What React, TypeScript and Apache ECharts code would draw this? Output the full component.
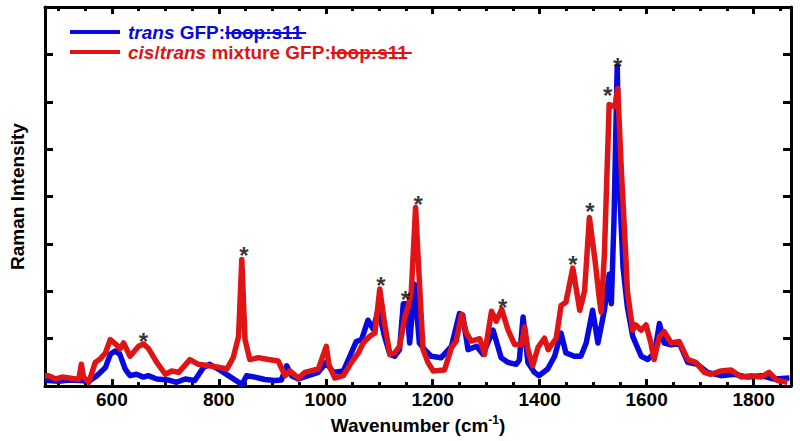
import React, { useEffect, useRef } from 'react';
import * as echarts from 'echarts';

const FONT = '"Liberation Sans", Arial, Helvetica, sans-serif';
const BLUE = '#0808e0';
const RED = '#e01414';

// trans GFP:loop:s11 (blue)
const transWavenumber = [
  475, 482, 500, 520, 540, 557, 572, 588, 597, 606, 615, 625, 634, 646, 659, 668, 684, 705, 721, 737,
  755, 771, 783, 799, 818, 837, 843, 852, 868, 886, 905, 917, 927, 936, 949, 967, 986, 1001, 1014, 1033,
  1045, 1057, 1067, 1079, 1089, 1098, 1110, 1120, 1129, 1138, 1145, 1151, 1157, 1166, 1175, 1185, 1197, 1216, 1235, 1250,
  1256, 1266, 1282, 1294, 1313, 1328, 1341, 1356, 1362, 1369, 1378, 1390, 1399, 1415, 1428, 1440, 1449, 1465, 1477, 1487,
  1499, 1509, 1521, 1530, 1534, 1539, 1545, 1550, 1556, 1564, 1574, 1590, 1602, 1615, 1624, 1633, 1646, 1661, 1677, 1695,
  1714, 1739, 1764, 1789, 1814, 1839, 1867,
];
const transIntensity = [
  0.12, 0.12, 0.10, 0.13, 0.12, 0.10, 0.22, 0.39, 0.67, 0.74, 0.67, 0.36, 0.22, 0.25, 0.19, 0.22, 0.15, 0.13, 0.08, 0.15,
  0.12, 0.39, 0.46, 0.36, 0.22, 0.08, 0.03, 0.22, 0.19, 0.14, 0.12, 0.13, 0.43, 0.22, 0.15, 0.22, 0.29, 0.50, 0.29, 0.32,
  0.63, 0.94, 0.98, 1.39, 1.20, 1.62, 1.05, 0.67, 0.63, 0.77, 1.74, 1.74, 0.91, 2.15, 0.91, 0.77, 0.63, 0.60, 0.84, 1.53,
  1.50, 0.77, 0.84, 0.67, 1.18, 0.60, 0.50, 0.46, 0.55, 1.46, 0.50, 0.29, 0.22, 0.36, 0.63, 1.12, 0.70, 0.63, 0.63, 0.91,
  1.60, 0.91, 1.60, 2.36, 1.74, 3.50, 6.74, 4.00, 2.50, 1.67, 1.05, 0.63, 0.56, 0.70, 1.32, 0.91, 0.87, 0.91, 0.50, 0.46,
  0.29, 0.22, 0.25, 0.19, 0.22, 0.15, 0.17,
];

// cis/trans mixture GFP:loop:s11 (red)
const mixWavenumber = [
  475, 482, 495, 507, 520, 532, 538, 543, 547, 557, 569, 578, 588, 597, 609, 615, 622, 634, 650, 659,
  668, 684, 700, 712, 725, 746, 762, 781, 799, 815, 827, 837, 843, 849, 858, 874, 893, 911, 924, 933,
  949, 961, 986, 1001, 1006, 1017, 1033, 1048, 1061, 1070, 1082, 1092, 1101, 1110, 1120, 1129, 1138, 1148, 1154, 1160,
  1168, 1176, 1182, 1191, 1201, 1222, 1235, 1244, 1254, 1263, 1272, 1288, 1297, 1310, 1319, 1329, 1341, 1353, 1366, 1372,
  1378, 1387, 1397, 1409, 1416, 1431, 1440, 1449, 1462, 1475, 1484, 1490, 1493, 1503, 1512, 1515, 1521, 1530, 1541, 1546,
  1553, 1561, 1564, 1574, 1580, 1590, 1599, 1608, 1614, 1624, 1633, 1646, 1661, 1677, 1692, 1708, 1720, 1739, 1758, 1777,
  1795, 1814, 1829, 1844, 1863,
];
const mixIntensity = [
  0.22, 0.22, 0.15, 0.19, 0.17, 0.15, 0.14, 0.46, 0.19, 0.08, 0.50, 0.57, 0.70, 0.98, 0.87, 0.78, 0.91, 0.63, 0.84, 0.89,
  0.80, 0.50, 0.25, 0.32, 0.29, 0.56, 0.46, 0.43, 0.40, 0.36, 0.60, 1.05, 2.67, 0.98, 0.56, 0.60, 0.56, 0.53, 0.22, 0.32,
  0.17, 0.29, 0.36, 0.84, 0.45, 0.17, 0.22, 0.50, 0.70, 0.91, 1.05, 1.12, 2.05, 1.32, 0.67, 0.70, 0.84, 1.46, 1.67, 2.00,
  3.77, 2.00, 0.77, 0.50, 0.32, 0.34, 0.81, 0.95, 1.51, 1.12, 0.95, 1.00, 0.67, 1.58, 1.37, 1.62, 1.18, 0.88, 0.88, 1.25,
  0.77, 0.43, 0.82, 1.01, 0.77, 1.01, 1.70, 1.77, 2.49, 1.60, 2.01, 3.04, 3.56, 2.70, 1.80, 1.56, 2.77, 5.94, 5.90, 6.28,
  4.50, 2.77, 2.01, 1.18, 1.29, 1.18, 1.29, 0.91, 0.56, 1.05, 1.15, 0.91, 0.94, 0.56, 0.50, 0.29, 0.25, 0.32, 0.34, 0.19,
  0.22, 0.19, 0.29, 0.12, 0.08,
];

// asterisk annotations
const starWavenumber = [659, 847, 1103, 1149, 1173, 1331, 1462, 1494, 1527, 1546];
const starIntensity = [1.05, 2.87, 2.23, 1.94, 3.94, 1.77, 2.67, 3.79, 6.24, 6.86];

const xMajorTicks = [600, 800, 1000, 1200, 1400, 1600, 1800];
const xMinorTicks = [
  500, 550, 650, 700, 750, 850, 900, 950, 1050, 1100, 1150, 1250, 1300, 1350,
  1450, 1500, 1550, 1650, 1700, 1750, 1850,
];

const X_MIN = 475;
const X_MAX = 1870;

export default function App() {
  const ref = useRef<HTMLDivElement>(null);

  useEffect(() => {
    document.body.style.margin = '0';
    const chart = echarts.init(ref.current!, null, { renderer: 'svg' });

    const canvas = document.createElement('canvas');
    const ctx = canvas.getContext('2d')!;
    const LEG_SIZE = 19;
    const measure = (t: string, italic: boolean) => {
      ctx.font = `${italic ? 'italic ' : ''}bold ${LEG_SIZE}px ${FONT}`;
      return ctx.measureText(t).width;
    };

    type Part = { text: string; italic?: boolean; strike?: boolean };
    const legendRow = (parts: Part[], lineX: number, textX: number, y: number, color: string) => {
      const els: any[] = [
        {
          type: 'line',
          shape: { x1: lineX, y1: y, x2: lineX + 50, y2: y },
          style: { stroke: color, lineWidth: 4 },
          z: 100,
        },
      ];
      let x = textX;
      parts.forEach((p) => {
        const w = measure(p.text, !!p.italic);
        els.push({
          type: 'text',
          x,
          y,
          z: 100,
          style: {
            text: p.text,
            fill: color,
            fontFamily: FONT,
            fontSize: LEG_SIZE,
            fontWeight: 'bold',
            fontStyle: p.italic ? 'italic' : 'normal',
            verticalAlign: 'middle',
            align: 'left',
          },
        });
        if (p.strike) {
          els.push({
            type: 'line',
            shape: { x1: x, y1: y + 1, x2: x + w + 4, y2: y + 1 },
            style: { stroke: color, lineWidth: 2 },
            z: 101,
          });
        }
        x += w;
      });
      return els;
    };

    const graphics = [
      ...legendRow(
        [{ text: 'trans', italic: true }, { text: ' GFP:' }, { text: 'loop:s11', strike: true }],
        70, 128, 32, BLUE
      ),
      ...legendRow(
        [
          { text: 'cis', italic: true },
          { text: '/' },
          { text: 'trans', italic: true },
          { text: ' mixture GFP:' },
          { text: 'loop:s11', strike: true },
        ],
        70, 128, 52, RED
      ),
    ];

    const tickBase = { show: true, inside: true, lineStyle: { color: '#000', width: 3 } };

    chart.setOption({
      animation: false,
      backgroundColor: '#fff',
      grid: { left: 43, right: 9, top: 7, bottom: 47 },
      xAxis: [
        {
          type: 'value',
          min: X_MIN,
          max: X_MAX,
          position: 'bottom',
          axisLine: { show: true, lineStyle: { color: '#000', width: 3 } },
          axisTick: { ...tickBase, length: 7, customValues: xMajorTicks },
          axisLabel: {
            customValues: xMajorTicks,
            formatter: (v: number) => String(v),
            color: '#000',
            fontFamily: FONT,
            fontSize: 19,
            fontWeight: 'bold',
            margin: 4,
          },
          splitLine: { show: false },
          name: 'Wavenumber (cm{sup|-1})',
          nameLocation: 'middle',
          nameGap: 20,
          nameTextStyle: {
            color: '#000',
            fontFamily: FONT,
            fontSize: 19,
            fontWeight: 'bold',
            lineHeight: 22,
            rich: {
              sup: {
                color: '#000',
                fontFamily: FONT,
                fontSize: 12,
                fontWeight: 'bold',
                verticalAlign: 'top',
                lineHeight: 12,
              },
            },
          },
        },
        {
          type: 'value',
          min: X_MIN,
          max: X_MAX,
          position: 'bottom',
          axisLine: { show: false },
          axisTick: { ...tickBase, length: 4, customValues: xMinorTicks },
          axisLabel: { show: false },
          splitLine: { show: false },
        },
        {
          type: 'value',
          min: X_MIN,
          max: X_MAX,
          position: 'top',
          axisLine: { show: true, lineStyle: { color: '#000', width: 3 } },
          axisTick: { ...tickBase, length: 7, customValues: xMajorTicks },
          axisLabel: { show: false },
          splitLine: { show: false },
        },
        {
          type: 'value',
          min: X_MIN,
          max: X_MAX,
          position: 'top',
          axisLine: { show: false },
          axisTick: { ...tickBase, length: 4, customValues: xMinorTicks },
          axisLabel: { show: false },
          splitLine: { show: false },
        },
      ],
      yAxis: [
        {
          type: 'value',
          min: 0,
          max: 8,
          interval: 1,
          position: 'left',
          axisLine: { show: true, lineStyle: { color: '#000', width: 3 } },
          axisTick: { ...tickBase, length: 8 },
          axisLabel: { show: false },
          splitLine: { show: false },
          name: 'Raman Intensity',
          nameLocation: 'middle',
          nameGap: 18,
          nameTextStyle: {
            color: '#000',
            fontFamily: FONT,
            fontSize: 19,
            fontWeight: 'bold',
          },
        },
        {
          type: 'value',
          min: 0,
          max: 8,
          interval: 1,
          position: 'right',
          axisLine: { show: true, lineStyle: { color: '#000', width: 3 } },
          axisTick: { ...tickBase, length: 8 },
          axisLabel: { show: false },
          splitLine: { show: false },
        },
      ],
      series: [
        {
          name: 'trans GFP:loop:s11',
          type: 'line',
          xAxisIndex: 0,
          yAxisIndex: 0,
          data: transWavenumber.map((w, i) => [w, transIntensity[i]]),
          showSymbol: false,
          symbol: 'none',
          lineStyle: { color: BLUE, width: 5.5, join: 'round' },
          z: 2,
        },
        {
          name: 'cis/trans mixture GFP:loop:s11',
          type: 'line',
          xAxisIndex: 0,
          yAxisIndex: 0,
          data: mixWavenumber.map((w, i) => [w, mixIntensity[i]]),
          showSymbol: false,
          symbol: 'none',
          lineStyle: { color: RED, width: 5.5, join: 'round' },
          z: 3,
        },
        {
          name: 'peaks',
          type: 'scatter',
          xAxisIndex: 0,
          yAxisIndex: 0,
          data: starWavenumber.map((w, i) => [w, starIntensity[i]]),
          symbolSize: 1,
          itemStyle: { color: 'rgba(0,0,0,0)' },
          label: {
            show: true,
            position: 'inside',
            formatter: '*',
            color: '#000',
            fontFamily: FONT,
            fontSize: 24,
            fontWeight: 'bold',
            offset: [0, 5],
          },
          z: 5,
        },
      ],
      graphic: graphics,
    });

    return () => chart.dispose();
  }, []);

  return <div ref={ref} style={{ width: 800, height: 441 }} />;
}
